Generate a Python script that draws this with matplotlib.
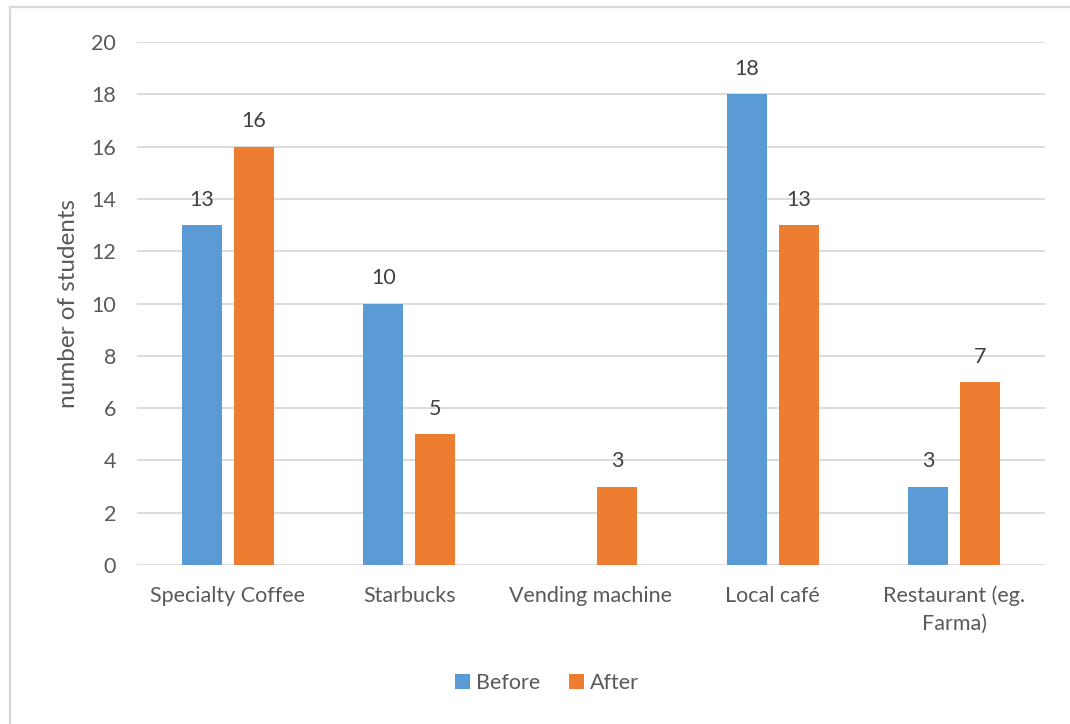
import matplotlib
matplotlib.use("Agg")
import matplotlib.pyplot as plt
from matplotlib.patches import Rectangle
import numpy as np

categories = ["Specialty Coffee", "Starbucks", "Vending machine", "Local café",
              "Restaurant (eg.\nFarma)"]
before = [13, 10, 0, 18, 3]
after = [16, 5, 3, 13, 7]
yticks = [0, 2, 4, 6, 8, 10, 12, 14, 16, 18, 20]

BLUE = "#5B9BD5"
ORANGE = "#ED7D31"
TEXT = "#595959"
GRID = "#D9D9D9"

plt.rcParams["font.family"] = ["Lato", "DejaVu Sans"]

fig = plt.figure(figsize=(10.70, 7.24), dpi=100)
ax = fig.add_axes([0.128, 0.2196, 0.8486, 0.7224])

x = np.arange(len(categories))
w = 0.22
off = 0.143
b1 = ax.bar(x - off, before, w, color=BLUE, label="Before", zorder=3)
b2 = ax.bar(x + off, after, w, color=ORANGE, label="After", zorder=3)

for bars, vals in ((b1, before), (b2, after)):
    for rect, v in zip(bars, vals):
        if v == 0:
            continue
        ax.annotate(str(v), (rect.get_x() + rect.get_width() / 2, v),
                    xytext=(0, 11), textcoords="offset points",
                    ha="center", va="bottom", fontsize=15.5, color="#404040")

ax.set_xlim(-0.5, len(categories) - 0.5)
ax.set_ylim(0, 20)
ax.set_yticks(yticks)
ax.set_xticks(x)
ax.set_xticklabels(categories, linespacing=1.45)
ax.tick_params(axis="both", length=0, labelsize=15.5, colors=TEXT)
ax.tick_params(axis="y", pad=15)
ax.tick_params(axis="x", pad=15)
ax.grid(axis="y", color=GRID, linewidth=1.3, zorder=0)
for s in ax.spines.values():
    s.set_visible(False)
ax.set_ylabel("number of students", fontsize=17.5, color=TEXT)
ax.yaxis.set_label_coords(-0.064, 0.5)

leg = fig.legend(handles=[b1, b2], labels=["Before", "After"],
                 loc="center", bbox_to_anchor=(547 / 1070, 1 - 683 / 724),
                 ncol=2, frameon=False, fontsize=15.5, handlelength=0.7,
                 handleheight=0.7, handletextpad=0.3, columnspacing=1.3)
for t in leg.get_texts():
    t.set_color(TEXT)

# chart-area border
fig.patches.append(Rectangle((10 / 1070, -0.1), 1.2, 1.1 - 7 / 724,
                             transform=fig.transFigure, fill=False,
                             edgecolor=GRID, linewidth=1.6))

fig.savefig("out.png", dpi=100, facecolor="white")
